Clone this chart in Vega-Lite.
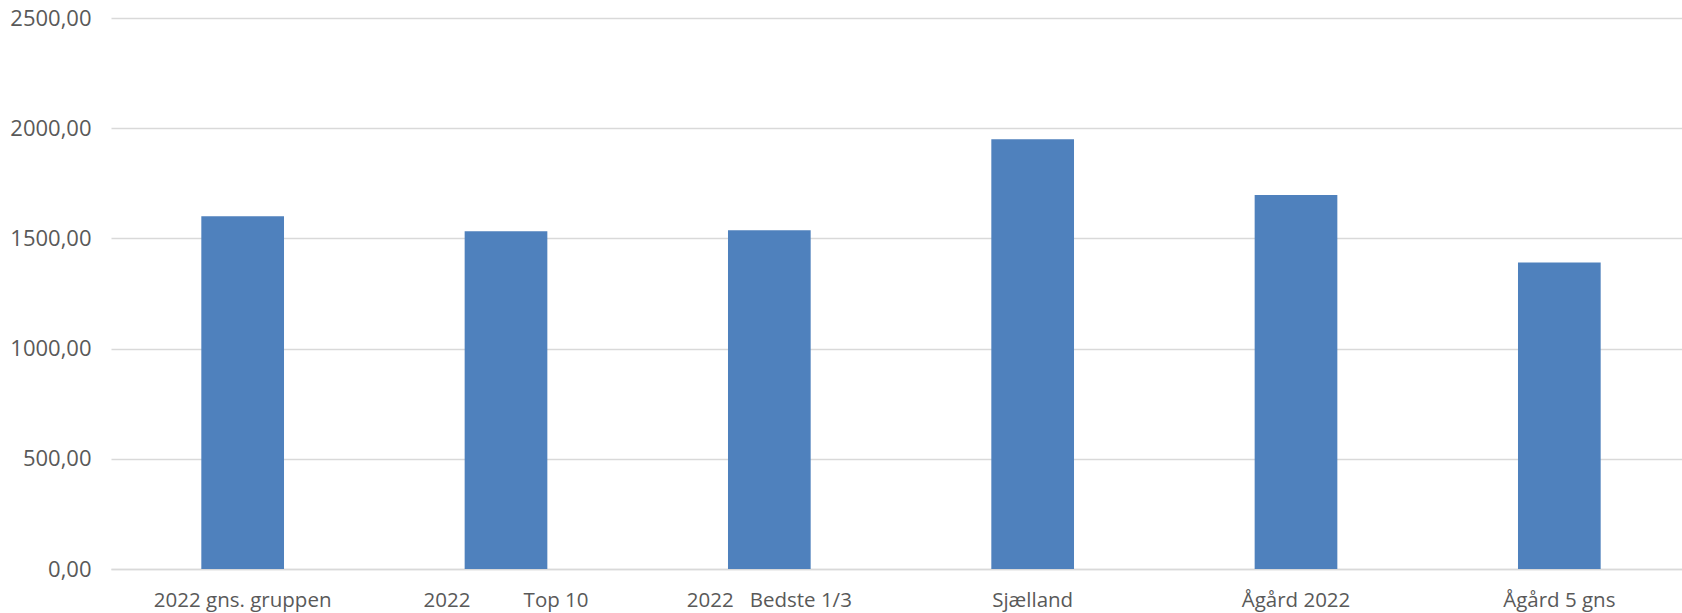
{
  "$schema": "https://vega.github.io/schema/vega-lite/v6.json",
  "autosize": "none",
  "width": 1580,
  "height": 551,
  "padding": {"left": 111, "top": 18, "right": 0, "bottom": 44},
  "background": "white",
  "data": {"values": [
    {"kategori": "2022 gns. gruppen", "vaerdi": 1600},
    {"kategori": "2022\u00a0\u00a0\u00a0\u00a0\u00a0\u00a0\u00a0\u00a0\u00a0\u00a0Top 10", "vaerdi": 1532},
    {"kategori": "2022\u00a0\u00a0\u00a0Bedste 1/3", "vaerdi": 1537},
    {"kategori": "Sjælland", "vaerdi": 1950},
    {"kategori": "Ågård 2022", "vaerdi": 1697},
    {"kategori": "Ågård 5 gns", "vaerdi": 1391}
  ]},
  "mark": {"type": "bar", "color": "#4f81bd"},
  "encoding": {
    "x": {
      "field": "kategori", "type": "nominal", "sort": null,
      "scale": {"paddingInner": 0.686, "paddingOuter": 0.343},
      "axis": {
        "title": null, "labelAngle": 0, "ticks": false,
        "domainColor": "#d9d9d9", "domainWidth": 1.5,
        "labelFont": "Open Sans", "labelFontSize": 20.5,
        "labelColor": "#595959", "labelPadding": 21, "labelLimit": 0
      }
    },
    "y": {
      "field": "vaerdi", "type": "quantitative",
      "scale": {"domain": [0, 2500], "nice": false},
      "axis": {
        "title": null, "values": [0, 500, 1000, 1500, 2000, 2500],
        "labelExpr": "replace(format(datum.value, '.2f'), '.', ',')",
        "domain": false, "ticks": false, "grid": true,
        "gridColor": "#d9d9d9", "gridWidth": 1.5,
        "labelFont": "Open Sans", "labelFontSize": 22, "labelColor": "#595959",
        "labelPadding": 20
      }
    }
  },
  "config": {"view": {"stroke": null}}
}
